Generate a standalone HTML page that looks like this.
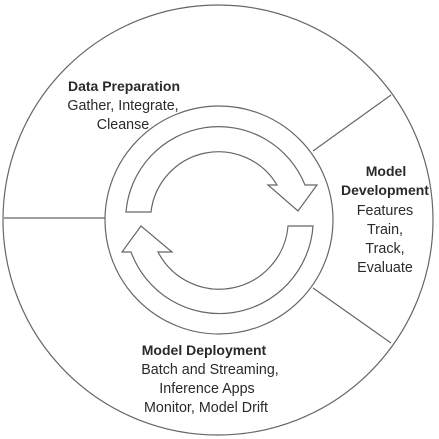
<!DOCTYPE html>
<html><head><style>
html,body{margin:0;padding:0;background:#fff;}
svg{display:block}
text{font-family:"Liberation Sans",sans-serif;font-size:14.3px;fill:#2a2a2a;text-anchor:middle}
.b{font-weight:bold;font-size:14px}
</style></head><body>
<svg width="439" height="439" viewBox="0 0 439 439">
<g fill="none" stroke="#666" stroke-width="1.2">
<circle cx="218" cy="220" r="215"/>
<circle cx="219" cy="220" r="114"/>
<line x1="4" y1="218" x2="105" y2="218"/>
<line x1="313" y1="151" x2="391" y2="95"/>
<line x1="313" y1="288" x2="391" y2="343"/>
<path d="M126,212 A93 93 0 0 1 305,185 L317,185 L298,211 L268,185 L277,185 A68 68 0 0 0 151,212 Z"/>
<path d="M313,226 A94 94 0 0 1 131,252 L122,252 L141,226 L172,252 L158,252 A69 69 0 0 0 288,226 Z"/>
</g>
<text class="b" x="124" y="91">Data Preparation</text>
<text x="123" y="110">Gather, Integrate,</text>
<text x="123" y="129">Cleanse</text>
<text class="b" x="386" y="176">Model</text>
<text class="b" x="385" y="195">Development</text>
<text x="385" y="215">Features</text>
<text x="385" y="234">Train,</text>
<text x="385" y="253">Track,</text>
<text x="385" y="272">Evaluate</text>
<text class="b" x="204" y="355">Model Deployment</text>
<text x="210" y="374">Batch and Streaming,</text>
<text x="207" y="393">Inference Apps</text>
<text x="206" y="412">Monitor, Model Drift</text>
</svg>
</body></html>
